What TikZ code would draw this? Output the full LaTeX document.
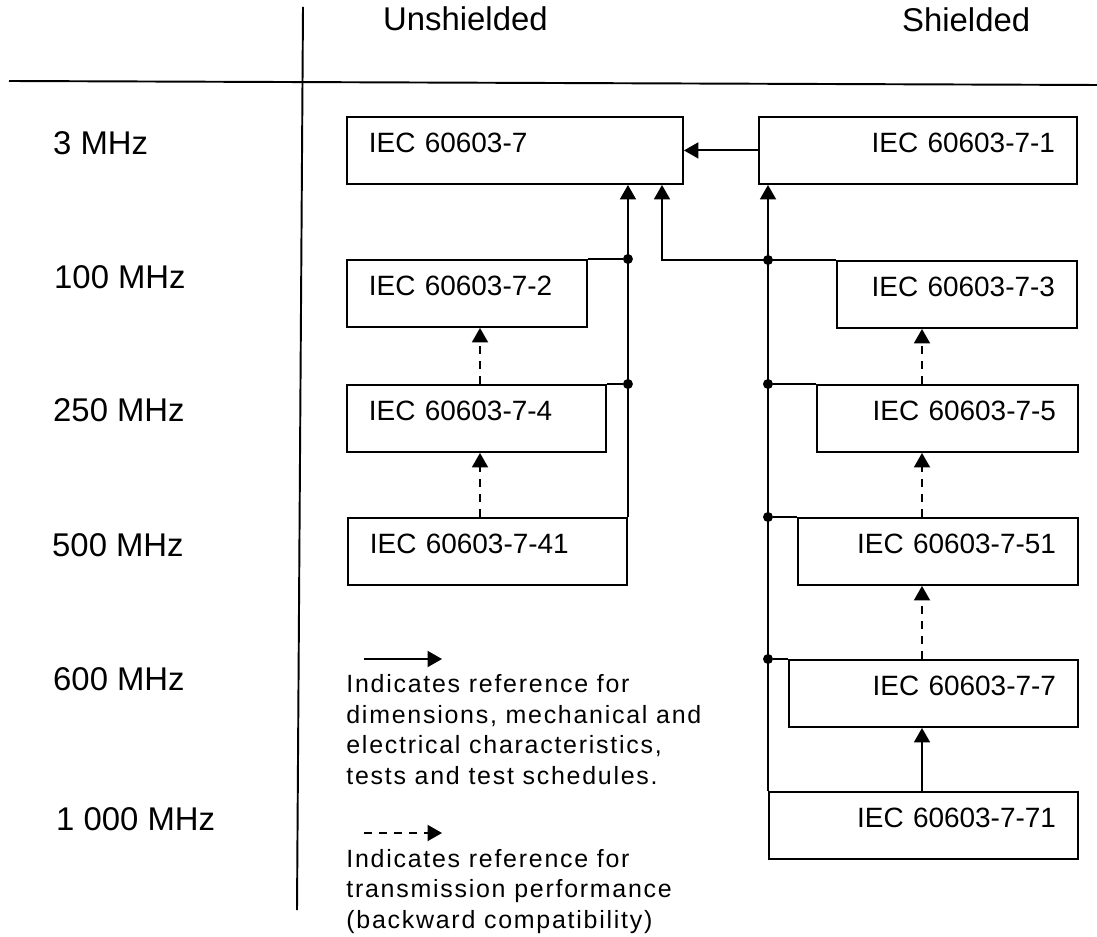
\documentclass[tikz,border=0pt]{standalone}
\usepackage{fontspec}
\setmainfont{Liberation Sans}
\newfontfamily\legendfont[LetterSpace=7]{Liberation Sans}
\usetikzlibrary{arrows.meta}

\begin{document}
\begin{tikzpicture}[x=0.2mm,y=-0.2mm]
  % Base settings
  \tikzset{
    myline/.style={line width=1.1pt},
    box/.style={draw, myline, rectangle, anchor=north west, inner xsep=4.4mm,
      inner ysep=0pt, text height=7.2mm, text depth=6.2mm,
      font=\fontsize{15.9}{19}\selectfont},
    ubox/.style={box, align=left, text width=#1},
    sbox/.style={box, align=right, text width=#1},
    freq/.style={anchor=base west, font=\fontsize{18.7}{22}\selectfont},
    ref/.style={myline, -{Triangle[length=2.9mm, width=3.2mm]}},
    perf/.style={ref, dash pattern=on 1.6mm off 1.4mm},
    joint/.style={circle, fill, inner sep=0pt, minimum size=2mm},
    note/.style={anchor=base west, align=left, inner sep=0pt,
      font=\legendfont\fontsize{14.2}{17.3}\selectfont}
  }
  \useasboundingbox (0,0) rectangle (1097,937);

  % --- Header ---
  \node[freq] (unsh) at (377,31) {Unshielded};
  \node[freq] (shld) at (896,32) {Shielded};
  \coordinate (vtop) at (303,7);
  \coordinate (vbot) at (297,910);
  \coordinate (hleft) at (9,81);
  \coordinate (hright) at (1097,85);
  \draw[myline] (vtop) -- (vbot);
  \draw[myline] (hleft) -- (hright);

  % --- Frequencies ---
  \node[freq] (f3) at (47,155) {3 MHz};
  \node[freq] (f100) at (48,289) {100 MHz};
  \node[freq] (f250) at (47,422) {250 MHz};
  \node[freq] (f500) at (46,556) {500 MHz};
  \node[freq] (f600) at (47,690) {600 MHz};
  \node[freq] (f1000) at (50,830) {1 000 MHz};

  % --- Boxes ---
  \node[ubox=58.4mm] (b7) at (346,116) {IEC 60603-7};
  \node[sbox=54.8mm] (b71) at (758,116) {IEC 60603-7-1};
  \node[ubox=39.2mm] (b72) at (346,259) {IEC 60603-7-2};
  \node[sbox=39.2mm] (b73) at (836,260) {IEC 60603-7-3};
  \node[ubox=43.0mm] (b74) at (346,384) {IEC 60603-7-4};
  \node[sbox=43.4mm] (b75) at (816,384) {IEC 60603-7-5};
  \node[ubox=47.0mm] (b741) at (347,517) {IEC 60603-7-41};
  \node[sbox=47.2mm] (b751) at (797,517) {IEC 60603-7-51};
  \node[sbox=49.0mm] (b77) at (788,659) {IEC 60603-7-7};
  \node[sbox=53.0mm] (b771) at (768,791) {IEC 60603-7-71};

  % --- Junctions ---
  \node[joint] (j72) at (b72.north east -| b741.north east) {};
  \node[joint] (j74) at (b74.north east -| b741.north east) {};
  \node[joint] (j73) at (b73.north west -| b771.north west) {};
  \node[joint] (j75) at (b75.north west -| b771.north west) {};
  \node[joint] (j751) at (b751.north west -| b771.north west) {};
  \node[joint] (j77) at (b77.north west -| b771.north west) {};

  % --- Solid references ---
  \coordinate (back) at (662,0);
  \draw[ref] (b71) -- (b7);
  \draw[ref] (b741.north east) -- (b741.north east |- b7.south);
  \draw[ref] (b771.north west) -- (b771.north west |- b71.south);
  \draw[ref] (b73.north west) -- (b73.north west -| back) -- (back |- b7.south);
  \draw[myline] (b72.north east) -- (j72);
  \draw[myline] (b74.north east) -- (j74);
  \draw[myline] (j75) -- (b75.north west);
  \draw[myline] (j751) -- (b751.north west);
  \draw[myline] (j77) -- (b77.north west);
  \coordinate (ucol) at (480,0);
  \coordinate (scol) at (922,0);
  \draw[ref] (b771.north -| scol) -- (b77.south -| scol);

  % --- Dashed references ---
  \draw[perf] (b741.north -| ucol) -- (b74.south -| ucol);
  \draw[perf] (b74.north -| ucol) -- (b72.south -| ucol);
  \draw[perf] (b751.north -| scol) -- (b75.south -| scol);
  \draw[perf] (b75.north -| scol) -- (b73.south -| scol);
  \draw[perf] (b77.north -| scol) -- (b751.south -| scol);

  % --- Legend ---
  \coordinate (s1) at (364,659);
  \coordinate (s2) at (442,659);
  \draw[ref] (s1) -- (s2);
  \node[note] (n1) at (346,784) {Indicates reference for\\dimensions, mechanical and\\electrical characteristics,\\tests and test schedules.};
  \coordinate (d1) at (364,833);
  \coordinate (d2) at (442,833);
  \draw[perf] (d1) -- (d2);
  \node[note] (n2) at (346,928) {Indicates reference for\\transmission performance\\(backward compatibility)};

\end{tikzpicture}
\end{document}
